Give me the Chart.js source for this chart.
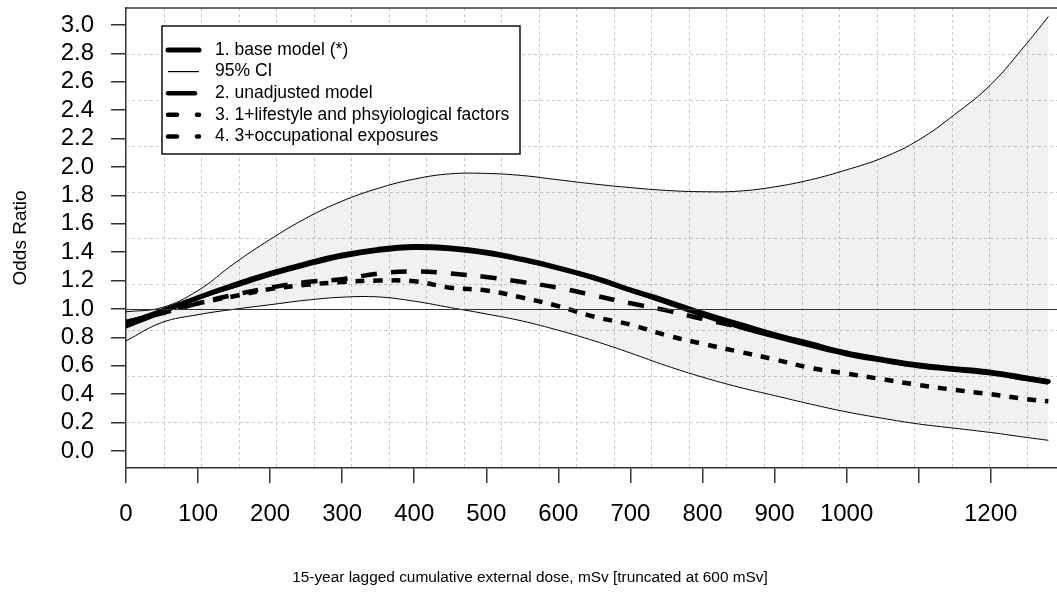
<!DOCTYPE html>
<html>
<head>
<meta charset="utf-8">
<script src="https://cdn.jsdelivr.net/npm/chart.js@4.4.1/dist/chart.umd.min.js"></script>
<style>
html, body { margin: 0; padding: 0; background: #fff; overflow: hidden; }
#wrap { width: 1057px; height: 594px; }
</style>
</head>
<body>
<div id="wrap"><canvas id="chart"></canvas></div>
<script>
var dose = [0, 50, 100, 150, 200, 250, 300, 350, 400, 450, 500, 550, 600, 650, 700,
            750, 800, 850, 900, 950, 1000, 1050, 1100, 1150, 1200, 1250, 1280];

var baseModel  = [0.88, 0.98, 1.08, 1.17, 1.25, 1.32, 1.38, 1.42, 1.44, 1.43, 1.40, 1.35, 1.29, 1.22, 1.135,
                  1.055, 0.97, 0.895, 0.82, 0.755, 0.69, 0.645, 0.605, 0.58, 0.555, 0.515, 0.49];
var ciUpper    = [0.98, 1.01, 1.13, 1.32, 1.49, 1.64, 1.76, 1.85, 1.915, 1.952, 1.955, 1.94, 1.91, 1.88, 1.855,
                  1.835, 1.826, 1.83, 1.86, 1.91, 1.98, 2.065, 2.19, 2.37, 2.58, 2.87, 3.06];
var ciLower    = [0.775, 0.905, 0.96, 0.998, 1.03, 1.062, 1.083, 1.085, 1.055, 1.01, 0.965, 0.915, 0.85, 0.775, 0.69,
                  0.60, 0.52, 0.45, 0.39, 0.33, 0.275, 0.23, 0.19, 0.16, 0.13, 0.095, 0.075];
var unadjusted = [0.90, 0.99, 1.08, 1.16, 1.24, 1.31, 1.37, 1.41, 1.43, 1.42, 1.39, 1.345, 1.285, 1.215, 1.13,
                  1.045, 0.955, 0.875, 0.805, 0.74, 0.68, 0.635, 0.595, 0.57, 0.545, 0.505, 0.48];
var lifestyle  = [0.91, 0.97, 1.04, 1.10, 1.15, 1.19, 1.21, 1.25, 1.265, 1.25, 1.225, 1.19, 1.15, 1.095, 1.04,
                  0.99, 0.93, 0.875, 0.815, 0.75, 0.69, 0.64, 0.60, 0.575, 0.55, 0.51, 0.49];
var occupational = [0.90, 0.98, 1.04, 1.09, 1.14, 1.17, 1.19, 1.20, 1.195, 1.15, 1.13, 1.08, 1.02, 0.945, 0.89,
                  0.815, 0.755, 0.70, 0.645, 0.585, 0.545, 0.505, 0.465, 0.43, 0.40, 0.365, 0.35];

var seriesNames = ['1. base model (*)', '95% CI', '2. unadjusted model',
                   '3. 1+lifestyle and phsyiological factors', '4. 3+occupational exposures'];
var xTitle = '15-year lagged cumulative external dose, mSv [truncated at 600 mSv]';
var yTitle = 'Odds Ratio';

var xTicks = [0, 100, 200, 300, 400, 500, 600, 700, 800, 900, 1000, 1100, 1200];
var xTickLabels = ['0', '100', '200', '300', '400', '500', '600', '700', '800', '900', '1000', '', '1200'];
var yTicks = [0, 0.2, 0.4, 0.6, 0.8, 1.0, 1.2, 1.4, 1.6, 1.8, 2.0, 2.2, 2.4, 2.6, 2.8, 3.0];
var refLine = 1.0;

var xMin = 0, xMax = 1292, xUsr = 1302;   // plot region runs past the window edge
var yMin = -0.12, yMax = 3.12;

function pts(vals) {
  return dose.map(function (d, i) { return {x: d, y: vals[i]}; });
}

var FONT = '"Liberation Sans", Arial, sans-serif';

// dotted grid (equal cells over the plot region), reference line, top frame, legend, x title
var framePlugin = {
  id: 'frame',
  beforeDatasetsDraw: function (chart) {
    var ctx = chart.ctx, a = chart.chartArea, xs = chart.scales.x, ys = chart.scales.y;
    ctx.save();
    ctx.strokeStyle = '#c9c9c9';
    ctx.lineWidth = 1;
    ctx.setLineDash([3, 3]);
    for (var i = 1; i < 25; i++) {
      var px = Math.round(xs.getPixelForValue(xMin + i * xUsr / 25)) + 0.5;
      ctx.beginPath(); ctx.moveTo(px, a.top); ctx.lineTo(px, a.bottom); ctx.stroke();
    }
    for (var j = 1; j < 10; j++) {
      var py = Math.round(ys.getPixelForValue(yMin + j * (yMax - yMin) / 10)) + 0.5;
      ctx.beginPath(); ctx.moveTo(a.left, py); ctx.lineTo(a.right, py); ctx.stroke();
    }
    ctx.restore();
  },
  afterDatasetsDraw: function (chart) {
    var ctx = chart.ctx, a = chart.chartArea, ys = chart.scales.y;
    ctx.save();
    ctx.strokeStyle = '#333';
    ctx.lineWidth = 1.2;
    var py = Math.round(ys.getPixelForValue(refLine)) + 0.5;
    ctx.beginPath(); ctx.moveTo(a.left, py); ctx.lineTo(a.right, py); ctx.stroke();
    ctx.lineWidth = 1.5;
    ctx.beginPath(); ctx.moveTo(a.left, a.top); ctx.lineTo(a.right, a.top); ctx.stroke();
    ctx.restore();
  },
  afterDraw: function (chart) {
    var ctx = chart.ctx, a = chart.chartArea;
    var left = a.left + 36, top = a.top + 18, w = 358, h = 128;
    var rows = [
      {w: 5, dash: [], x2: 200},
      {w: 1.2, dash: [], x2: 200},
      {w: 4.5, dash: [], x2: 196},
      {w: 4.5, dash: [9, 20], x2: 200},
      {w: 4.5, dash: [9, 20], x2: 200}
    ];
    ctx.save();
    ctx.fillStyle = '#fff';
    ctx.fillRect(left, top, w, h);
    ctx.strokeStyle = '#111';
    ctx.lineWidth = 1.5;
    ctx.strokeRect(left, top, w, h);
    ctx.font = '17.5px ' + FONT;
    ctx.textBaseline = 'middle';
    rows.forEach(function (r, i) {
      var y = top + 24 + i * 21.6;
      ctx.strokeStyle = '#000';
      ctx.lineWidth = r.w;
      ctx.lineCap = r.w > 2 ? 'round' : 'butt';
      ctx.setLineDash(r.dash);
      ctx.beginPath(); ctx.moveTo(left + 6, y); ctx.lineTo(left + (r.x2 - 163), y); ctx.stroke();
      ctx.setLineDash([]);
      ctx.fillStyle = '#000';
      ctx.fillText(seriesNames[i], left + 53, y);
    });
    // x axis title (centred a little left of the plot centre, as in the original)
    ctx.font = '15.4px ' + FONT;
    ctx.textAlign = 'center';
    ctx.fillText(xTitle, 530, 578);
    ctx.restore();
  }
};

var lineBase = {pointRadius: 0, tension: 0.4, borderColor: '#000', fill: false};

function ds(label, vals, extra) {
  var o = Object.assign({label: label, data: pts(vals)}, lineBase);
  return Object.assign(o, extra);
}

new Chart(document.getElementById('chart'), {
  type: 'line',
  data: {
    datasets: [
      ds(seriesNames[0], baseModel, {borderWidth: 5, borderCapStyle: 'round'}),
      ds(seriesNames[2], unadjusted, {borderWidth: 4}),
      ds(seriesNames[3], lifestyle, {borderWidth: 4.5, borderDash: [16, 14]}),
      ds(seriesNames[4], occupational, {borderWidth: 4.5, borderDash: [9, 9]}),
      ds(seriesNames[1], ciUpper, {borderWidth: 1, fill: '+1', backgroundColor: 'rgba(0,0,0,0.055)'}),
      ds(seriesNames[1], ciLower, {borderWidth: 1})
    ]
  },
  options: {
    responsive: true,
    maintainAspectRatio: false,
    animation: false,
    layout: {padding: {top: 8, right: 0, left: 0, bottom: 0}},
    plugins: {
      legend: {display: false},
      tooltip: {enabled: false}
    },
    scales: {
      x: {
        type: 'linear',
        min: xMin,
        max: xMax,
        afterBuildTicks: function (s) { s.ticks = xTicks.map(function (v) { return {value: v}; }); },
        afterFit: function (s) { s.height = 126; s.paddingLeft = 0; s.paddingRight = 0; },
        ticks: {
          autoSkip: false,
          maxRotation: 0,
          padding: 17,
          color: '#000',
          font: {family: FONT, size: 24},
          callback: function (v, i) { return xTickLabels[i]; }
        },
        grid: {drawOnChartArea: false, drawTicks: true, tickLength: 15, color: '#333', lineWidth: 1.5},
        border: {display: true, color: '#333', width: 1.5}
      },
      y: {
        type: 'linear',
        min: yMin,
        max: yMax,
        afterBuildTicks: function (s) { s.ticks = yTicks.map(function (v) { return {value: v}; }); },
        afterFit: function (s) { s.width = 126; s.paddingTop = 0; s.paddingBottom = 0; },
        ticks: {
          autoSkip: false,
          padding: 17,
          color: '#000',
          font: {family: FONT, size: 24},
          callback: function (v) { return v.toFixed(1); }
        },
        grid: {drawOnChartArea: false, drawTicks: true, tickLength: 15, color: '#333', lineWidth: 1.5},
        border: {display: true, color: '#333', width: 1.5},
        title: {
          display: true,
          text: yTitle,
          color: '#000',
          font: {family: FONT, size: 19},
          padding: {top: 9, bottom: 0}
        }
      }
    }
  },
  plugins: [framePlugin]
});
</script>
</body>
</html>
